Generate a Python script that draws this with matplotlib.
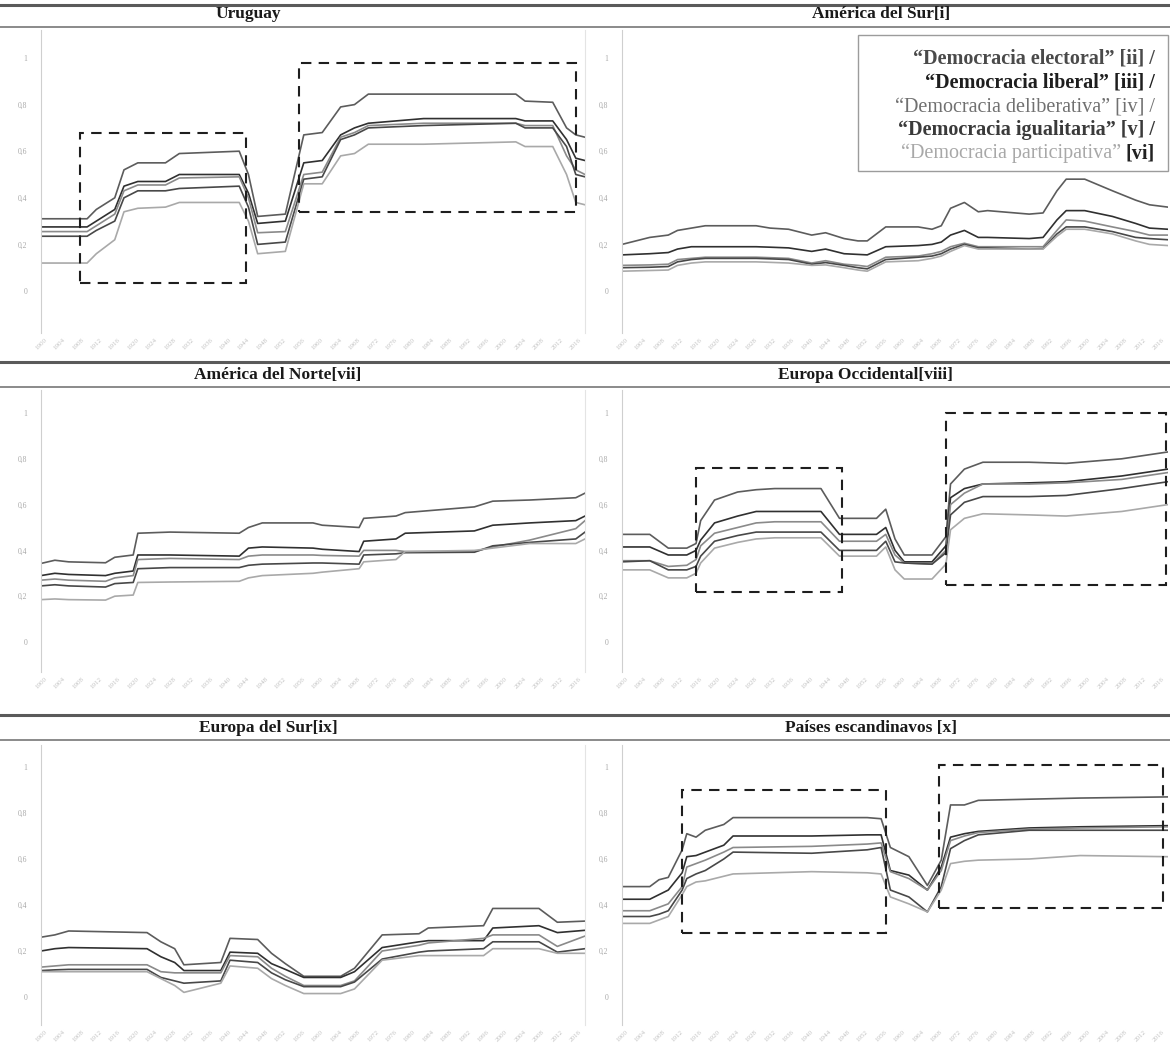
""" Indices de democracia (V-Dem) por region, 1900-2018: seis paneles en
escala de grises con los periodos destacados en recuadros punteados. """

import matplotlib
matplotlib.use("Agg")
import matplotlib.pyplot as plt
from matplotlib.patches import Rectangle
from matplotlib.lines import Line2D

# ---- datos -----------------------------------------------------------------
uy_years = [1900, 1910, 1912, 1916, 1918, 1921, 1927, 1930, 1943, 1945, 1947, 1953,
            1957, 1961, 1965, 1968, 1971, 1983, 2003, 2005, 2011, 2014, 2016, 2018]
uy_electoral = [.31, .31, .35, .40, .52, .55, .55, .59, .60, .50, .32, .33,
                .67, .68, .79, .80, .845, .845, .845, .815, .81, .70, .67, .66]
uy_liberal = [.275, .275, .30, .35, .45, .47, .47, .50, .50, .42, .29, .30,
              .55, .56, .67, .70, .72, .74, .74, .73, .73, .65, .57, .56]
uy_deliberativa = [.255, .255, .28, .33, .43, .455, .455, .485, .49, .40, .25, .255,
                   .50, .51, .66, .68, .71, .72, .72, .71, .71, .58, .52, .50]
uy_igualitaria = [.235, .235, .26, .30, .40, .43, .43, .44, .45, .36, .20, .21,
                  .48, .49, .65, .67, .70, .71, .72, .70, .70, .62, .50, .49]
uy_participativa = [.12, .12, .16, .22, .34, .355, .36, .38, .38, .30, .16, .17,
                    .46, .46, .58, .59, .63, .63, .64, .62, .62, .50, .38, .37]
uy_boxes = [(1908.5, .035, 1944.5, .68), (1956, .34, 2016, .98)]

as_years = [1900, 1906, 1910, 1912, 1915, 1918, 1929, 1932, 1936, 1941, 1944, 1948,
            1951, 1953, 1957, 1964, 1967, 1969, 1971, 1974, 1977, 1979, 1988, 1991,
            1994, 1996, 2000, 2006, 2011, 2014, 2018]
as_electoral = [.20, .23, .24, .26, .27, .28, .28, .27, .265, .24, .25, .225,
                .215, .215, .275, .275, .265, .28, .355, .38, .34, .345, .33, .335,
                .43, .48, .48, .43, .39, .37, .36]
as_liberal = [.155, .16, .165, .18, .19, .19, .19, .188, .185, .17, .18, .16,
              .157, .155, .19, .195, .20, .21, .24, .26, .23, .23, .225, .23,
              .305, .345, .345, .32, .29, .27, .265]
as_deliberativa = [.11, .112, .115, .135, .14, .145, .145, .143, .14, .12, .13, .115,
                   .11, .105, .145, .15, .16, .17, .19, .205, .19, .19, .19, .19,
                   .26, .305, .30, .275, .255, .24, .24]
as_igualitaria = [.10, .102, .105, .125, .135, .14, .14, .138, .135, .115, .122, .11,
                  .10, .095, .135, .145, .15, .16, .18, .20, .185, .185, .18, .182,
                  .245, .275, .275, .255, .23, .225, .22]
as_participativa = [.085, .088, .09, .11, .12, .125, .125, .123, .12, .11, .112, .10,
                    .09, .085, .125, .13, .14, .15, .17, .195, .18, .18, .18, .18,
                    .235, .265, .265, .245, .215, .20, .195]

an_years = [1900, 1903, 1906, 1914, 1916, 1920, 1921, 1928, 1943, 1945, 1948,
            1959, 1961, 1969, 1970, 1977, 1979, 1994, 1998, 2006, 2016, 2018]
an_electoral = [.343, .357, .35, .346, .37, .38, .475, .48, .475, .50, .52,
                .52, .51, .50, .54, .55, .565, .59, .615, .62, .63, .65]
an_liberal = [.29, .30, .295, .29, .30, .31, .38, .38, .375, .41, .415,
              .41, .405, .395, .44, .45, .475, .485, .51, .52, .53, .55]
an_deliberativa = [.27, .275, .27, .265, .28, .29, .36, .365, .36, .375, .38,
                   .38, .378, .375, .40, .40, .395, .395, .415, .445, .495, .53]
an_igualitaria = [.245, .25, .245, .24, .255, .26, .32, .325, .325, .335, .34,
                  .345, .345, .34, .38, .385, .39, .392, .42, .435, .45, .48]
an_participativa = [.185, .188, .185, .183, .20, .205, .26, .262, .265, .28, .29,
                    .30, .305, .32, .35, .36, .395, .40, .41, .43, .43, .45]

eo_years = [1900, 1906, 1910, 1914, 1916, 1917, 1920, 1925, 1929, 1933, 1943, 1947,
            1955, 1957, 1959, 1961, 1967, 1970, 1971, 1974, 1978, 1988, 1996, 2008, 2018]
eo_electoral = [.47, .47, .41, .41, .43, .53, .62, .655, .665, .67, .67, .54,
                .54, .58, .45, .38, .38, .46, .69, .755, .785, .785, .78, .80, .83]
eo_liberal = [.415, .415, .38, .38, .40, .445, .52, .55, .57, .57, .57, .47,
              .47, .50, .40, .35, .35, .42, .63, .67, .69, .695, .70, .725, .755]
eo_deliberativa = [.355, .355, .33, .335, .36, .42, .475, .50, .52, .525, .525, .44,
                   .44, .47, .38, .345, .34, .40, .60, .65, .69, .69, .695, .71, .74]
eo_igualitaria = [.35, .355, .315, .315, .33, .375, .44, .465, .48, .48, .48, .40,
                  .40, .44, .35, .345, .34, .39, .555, .61, .635, .635, .64, .67, .70]
eo_participativa = [.315, .315, .28, .28, .30, .345, .41, .435, .45, .455, .455, .375,
                    .375, .415, .315, .275, .275, .34, .49, .54, .56, .555, .55, .57, .60]
eo_boxes = [(1916, .22, 1947.5, .76), (1970, .25, 2017.6, 1.0)]

es_years = [1900, 1903, 1906, 1923, 1926, 1929, 1931, 1939, 1941, 1947, 1950, 1953,
            1957, 1965, 1968, 1974, 1982, 1984, 1996, 1998, 2008, 2012, 2018]
es_electoral = [.26, .27, .287, .28, .24, .21, .14, .15, .255, .25, .19, .145,
                .09, .09, .125, .27, .275, .30, .31, .385, .385, .325, .33]
es_liberal = [.20, .21, .215, .21, .175, .15, .115, .115, .195, .19, .145, .12,
              .085, .085, .11, .215, .24, .245, .245, .30, .31, .28, .29]
es_deliberativa = [.13, .135, .14, .14, .11, .105, .105, .105, .18, .175, .125, .09,
                   .05, .05, .07, .20, .225, .235, .255, .27, .27, .22, .265]
es_igualitaria = [.115, .118, .12, .12, .085, .07, .06, .07, .16, .15, .105, .075,
                  .045, .045, .065, .165, .195, .20, .21, .24, .24, .195, .21]
es_participativa = [.11, .11, .11, .11, .08, .05, .02, .06, .135, .125, .08, .05,
                    .015, .015, .035, .16, .18, .18, .18, .21, .21, .19, .19]

sc_years = [1900, 1906, 1908, 1910, 1913, 1914, 1916, 1918, 1922, 1924, 1941, 1953,
            1956, 1958, 1962, 1966, 1969, 1971, 1974, 1977, 1988, 1999, 2018]
sc_electoral = [.48, .48, .51, .52, .64, .71, .695, .725, .75, .78, .78, .78,
                .775, .65, .61, .485, .595, .835, .835, .855, .86, .865, .87]
sc_liberal = [.425, .425, .445, .465, .54, .61, .615, .63, .66, .70, .70, .705,
              .705, .55, .53, .465, .565, .695, .71, .72, .735, .74, .745]
sc_deliberativa = [.375, .375, .39, .405, .48, .565, .58, .595, .63, .65, .655, .665,
                   .67, .545, .515, .465, .55, .68, .70, .715, .73, .735, .74]
sc_igualitaria = [.35, .35, .36, .375, .465, .515, .535, .55, .60, .63, .625, .64,
                  .65, .465, .435, .37, .48, .645, .68, .705, .725, .725, .725]
sc_participativa = [.32, .32, .335, .35, .445, .48, .50, .505, .525, .535, .545, .54,
                    .535, .435, .405, .37, .465, .58, .59, .595, .60, .615, .61]
sc_boxes = [(1913, .28, 1957, .90), (1968.6, .385, 2017, 1.01)]

legend_labels = ["\u201cDemocracia electoral\u201d [ii] /",
                 "\u201cDemocracia liberal\u201d [iii] /",
                 "\u201cDemocracia deliberativa\u201d [iv] /",
                 "\u201cDemocracia igualitaria\u201d [v] /",
                 "\u201cDemocracia participativa\u201d "]
x_ticks = list(range(1900, 2017, 4))
y_ticks = [0, 0.2, 0.4, 0.6, 0.8, 1]
y_ticklabels = ["0", "0,2", "0,4", "0,6", "0,8", "1"]

# ---- estilo ------------------------------------------------------------------
W, H = 1170, 1055
plt.rcParams["font.family"] = ["Liberation Serif", "DejaVu Serif"]
line_colors = ["#5c5c5c", "#303030", "#8a8a8a", "#484848", "#a9a9a9"]
legend_colors = ["#4a4a4a", "#1e1e1e", "#707070", "#3a3a3a", "#a8a8a8"]
legend_weights = ["bold", "bold", "normal", "bold", "normal"]

# filas: (borde sup., borde inf., pixel del 0, pixel del 1, lineas de cabecera, y del titulo)
rows = [
    (30, 333, 291, 58, (5, 27), 14),
    (390, 672, 642, 413, (362, 387), 375),
    (745, 1025, 997, 767, (715, 740), 728),
]
cols = [(41, 585), (622, 1168)]

fig = plt.figure(figsize=(W / 100, H / 100), dpi=100)


def hline(y, color, lw):
    fig.add_artist(Line2D([0, 1], [1 - y / H] * 2, transform=fig.transFigure,
                          color=color, lw=lw))


def add_panel(row, col, title, title_x, years, series, boxes=()):
    top, bottom, y0, y1, _, title_y = rows[row]
    left, right = cols[col]
    ax = fig.add_axes([left / W, 1 - bottom / H, (right - left) / W, (bottom - top) / H])
    unit = y0 - y1
    ax.set_ylim(-(bottom - y0) / unit, 1 + (y1 - top) / unit)
    ax.set_xlim(1900, 2018)

    for values, color in zip(series, line_colors):
        ax.plot(years, values, color=color, lw=1.2, solid_joinstyle="round")

    for x0, b, x1, t in boxes:
        ax.add_patch(Rectangle((x0, b), x1 - x0, t - b, fill=False, ec="#1e1e1e",
                               lw=1.5, ls=(0, (5, 3.5)), zorder=4))

    for side in ("top", "bottom"):
        ax.spines[side].set_visible(False)
    ax.spines["left"].set_color("#cfcfcf")
    ax.spines["right"].set_color("#e4e4e4")
    ax.spines["right"].set_visible(col == 0)
    ax.set_yticks(y_ticks)
    ax.set_yticklabels(y_ticklabels, fontsize=5.5, color="#a8a8a8")
    ax.set_xticks(x_ticks)
    ax.set_xticklabels([str(y) for y in x_ticks], fontsize=5, color="#c2c2c2",
                       rotation=45, ha="center")
    ax.tick_params(axis="y", length=0, pad=10)
    ax.tick_params(axis="x", length=0, pad=3)

    fig.text(title_x / W, 1 - title_y / H, title, ha="center", va="center",
             fontsize=12.5, fontweight="bold", color="#1a1a1a")
    return ax


# cabeceras de cada fila
for r in rows:
    hline(r[4][0], "#5a5a5a", 2.2)
    hline(r[4][1], "#8a8a8a", 1.4)

add_panel(0, 0, "Uruguay", 248, uy_years,
          [uy_electoral, uy_liberal, uy_deliberativa, uy_igualitaria, uy_participativa],
          uy_boxes)
ax_sur = add_panel(0, 1, "América del Sur[i]", 881, as_years,
                   [as_electoral, as_liberal, as_deliberativa, as_igualitaria,
                    as_participativa])
add_panel(1, 0, "América del Norte[vii]", 278, an_years,
          [an_electoral, an_liberal, an_deliberativa, an_igualitaria, an_participativa])
add_panel(1, 1, "Europa Occidental[viii]", 865, eo_years,
          [eo_electoral, eo_liberal, eo_deliberativa, eo_igualitaria, eo_participativa],
          eo_boxes)
add_panel(2, 0, "Europa del Sur[ix]", 268, es_years,
          [es_electoral, es_liberal, es_deliberativa, es_igualitaria, es_participativa])
add_panel(2, 1, "Países escandinavos [x]", 871, sc_years,
          [sc_electoral, sc_liberal, sc_deliberativa, sc_igualitaria, sc_participativa],
          sc_boxes)

# leyenda de texto en el panel de America del Sur
ax_sur.add_patch(Rectangle((858 / W, 1 - 171 / H), (1168 - 858) / W, (171 - 35) / H,
                           transform=fig.transFigure, fc="white", ec="#9c9c9c",
                           lw=1.0, zorder=5, clip_on=False))
legend_y = [58, 82, 107, 130, 153]
legend_size = 14.5
for label, ly, color, weight in zip(legend_labels[:4], legend_y, legend_colors,
                                    legend_weights):
    ax_sur.text(1155 / W, 1 - ly / H, label, transform=fig.transFigure, ha="right",
                va="center", fontsize=legend_size, color=color, fontweight=weight,
                zorder=6, clip_on=False)
tag = ax_sur.text(1155 / W, 1 - legend_y[4] / H, "[vi]", transform=fig.transFigure,
                  ha="right", va="center", fontsize=legend_size, fontweight="bold",
                  color="#222222", zorder=6, clip_on=False)
ax_sur.annotate(legend_labels[4], xy=(0, 0.5), xycoords=tag, ha="right", va="center",
                fontsize=legend_size, color=legend_colors[4], annotation_clip=False,
                zorder=6)

fig.savefig("out.png", dpi=100, facecolor="white")
